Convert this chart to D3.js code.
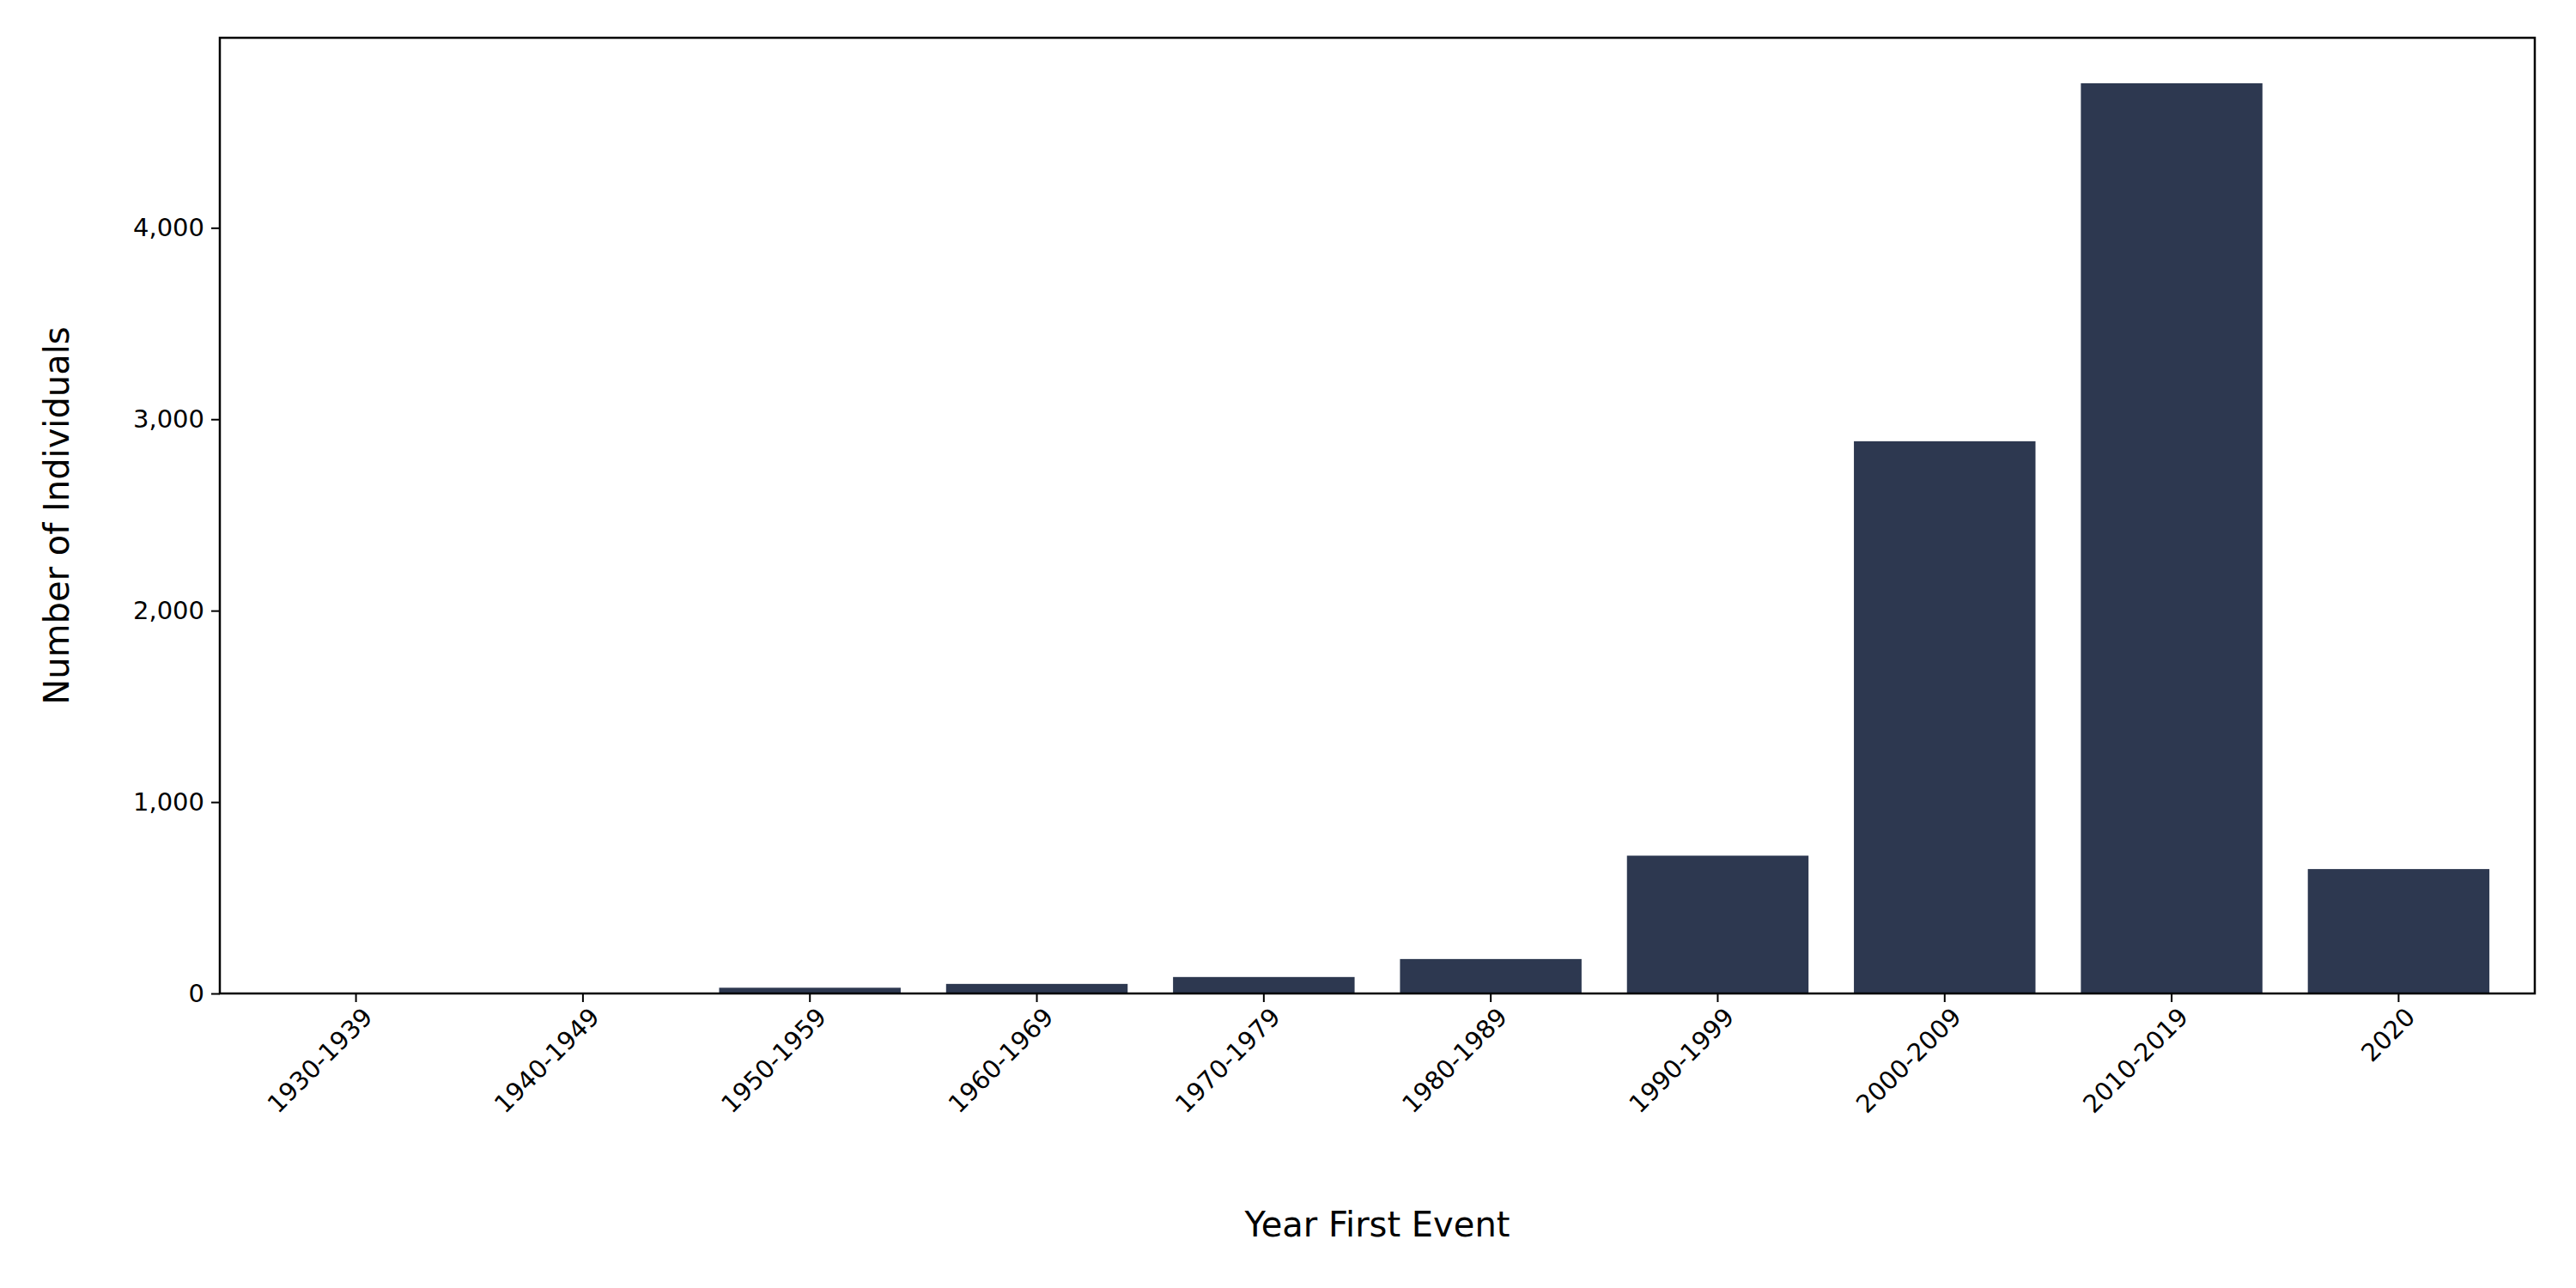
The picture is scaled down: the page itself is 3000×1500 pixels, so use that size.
<!DOCTYPE html>
<html>
<head>
<meta charset="utf-8">
<script src="https://cdn.jsdelivr.net/npm/d3@7"></script>
<style>
  body { margin: 0; background: #fff; }
  text { font-family: "DejaVu Sans", sans-serif; }
</style>
</head>
<body>
<svg id="chart" width="3000" height="1500"></svg>
<script>
var decades = ['1930-1939', '1940-1949', '1950-1959', '1960-1969', '1970-1979',
    '1980-1989', '1990-1999', '2000-2009', '2010-2019', '2020'];
var counts = [2, 4, 30, 50, 86, 180, 720, 2885, 4755, 650];
var yTicks = [0, 1000, 2000, 3000, 4000];

var margin = {top: 44, right: 48, bottom: 343, left: 256};
var width = 3000 - margin.left - margin.right;
var height = 1500 - margin.top - margin.bottom;

var svg = d3.select('#chart');
var g = svg.append('g').attr('transform', 'translate(' + margin.left + ',' + margin.top + ')');

var x = d3.scaleBand().domain(decades).range([0, width]).padding(0.2);
var y = d3.scaleLinear().domain([0, d3.max(counts) * 1.05]).range([height, 0]);

g.selectAll('rect.bar')
    .data(counts)
    .enter().append('rect')
    .attr('class', 'bar')
    .attr('x', function(d, i) { return x(decades[i]); })
    .attr('width', x.bandwidth())
    .attr('y', function(d) { return y(d); })
    .attr('height', function(d) { return height - y(d); })
    .attr('fill', '#2d3850');

// frame
g.append('rect')
    .attr('width', width).attr('height', height)
    .attr('fill', 'none').attr('stroke', '#000').attr('stroke-width', 2.5);

var xAxis = g.append('g')
    .attr('transform', 'translate(0,' + height + ')')
    .call(d3.axisBottom(x).tickSize(10).tickPadding(8));
xAxis.selectAll('text')
    .attr('font-size', 29)
    .attr('text-anchor', 'end')
    .attr('dx', '-0.2em')
    .attr('dy', '0.6em')
    .attr('transform', 'rotate(-45)');

var yAxis = g.append('g')
    .call(d3.axisLeft(y).tickValues(yTicks).tickSize(10).tickPadding(8));
yAxis.selectAll('text').attr('font-size', 29);

[xAxis, yAxis].forEach(function(a) {
    a.select('.domain').remove();
    a.selectAll('line').attr('stroke', '#000').attr('stroke-width', 2);
    a.selectAll('text').attr('fill', '#000').attr('font-family', 'DejaVu Sans');
});

svg.append('text')
    .attr('x', margin.left + width / 2)
    .attr('y', 1440)
    .attr('text-anchor', 'middle')
    .attr('font-size', 40)
    .text('Year First Event');

svg.append('text')
    .attr('transform', 'translate(80,' + (margin.top + height / 2) + ') rotate(-90)')
    .attr('text-anchor', 'middle')
    .attr('font-size', 40)
    .text('Number of Individuals');
</script>
</body>
</html>
